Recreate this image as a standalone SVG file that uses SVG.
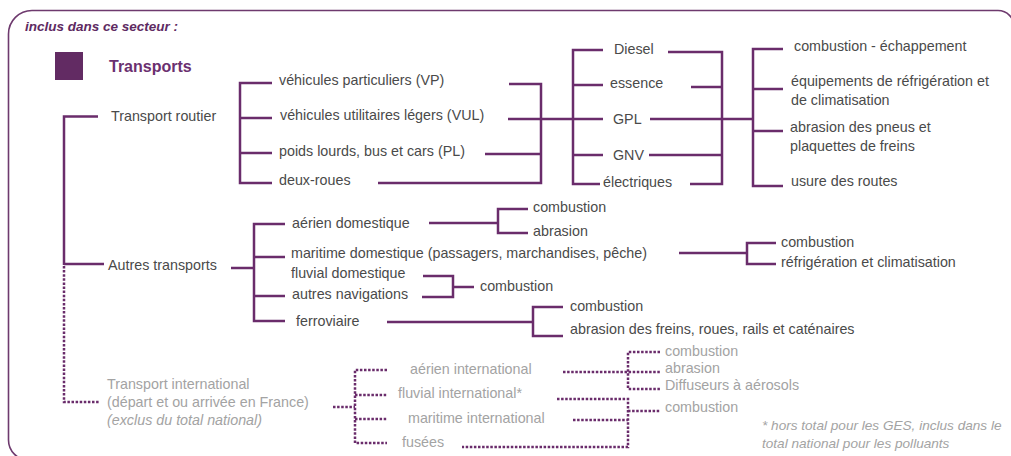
<svg xmlns="http://www.w3.org/2000/svg" width="1011" height="456" viewBox="0 0 1011 456">
<style>
.ln{fill:none;stroke:#6a2c6b;stroke-width:2.5;stroke-linejoin:miter;stroke-linecap:butt}
.dt{fill:none;stroke:#6a2c6b;stroke-width:2.5;stroke-dasharray:2.5 1.6}
.t{font-family:"Liberation Sans",Arial,sans-serif;font-size:14.3px;fill:#4a4a4a}
.g{font-family:"Liberation Sans",Arial,sans-serif;font-size:14.3px;fill:#a3a3a3}
.gi{font-family:"Liberation Sans",Arial,sans-serif;font-size:14.3px;fill:#a3a3a3;font-style:italic}
.fn{font-size:13.6px}
</style>
<rect width="1011" height="456" fill="#ffffff"/>
<path d="M1014 27 A16 16 0 0 0 998 10.5 L32 10.5 A23.5 23.5 0 0 0 8.5 34 L8.5 440 A20 20 0 0 0 28.5 460" fill="none" stroke="#6e3a6e" stroke-width="1.6"/>
<g id="header">
<text x="25" y="31" font-family="Liberation Sans,Arial,sans-serif" font-size="13.5" font-weight="bold" font-style="italic" fill="#5e2a62">inclus dans ce secteur :</text>
<rect x="55" y="52" width="28" height="28" fill="#622b63"/>
<text x="109" y="72" font-family="Liberation Sans,Arial,sans-serif" font-size="16" font-weight="bold" fill="#6b3070">Transports</text>
</g>
<g id="connectors">
<path class="ln" d="M98 116.5 H64 V265 M64 264 H104"/>
<path class="dt" d="M64 266 V402 H100"/>
<path class="ln" d="M272 83 H240 V183 H272 M240 118 H272 M240 153 H272"/>
<path class="ln" d="M509 84 H541 V183 H378 M508 119 H573 M485 154 H541"/>
<path class="ln" d="M603 50 H573 V184 H600 M573 85 H603 M573 119 H603 M573 155 H603"/>
<path class="ln" d="M668 52 H722 V184 H690 M691 87 H722 M650 119 H753 M649 155 H722"/>
<path class="ln" d="M783 49 H753 V186 H783 M753 89 H783 M753 131 H783"/>
<path class="ln" d="M231 268 H254 M285 224 H254 V321 H285 M254 257 H285 M254 296 H285"/>
<path class="ln" d="M429 223 H498 M528 209 H498 V233 H528"/>
<path class="ln" d="M679 253 H747 M776 243 H747 V264 H776"/>
<path class="ln" d="M423 276 H453 V297 H422 M453 287 H474"/>
<path class="ln" d="M387 322 H533 M563 307 H533 V336 H563"/>
<path class="dt" d="M333 407 H355 M387 370 H355 V443 H387 M355 395 H387 M355 419 H387"/>
<path class="dt" d="M563 372 H660 M660 352 H628 V389 H660"/>
<path class="dt" d="M557 399 H628 V447 H462 M573 420 H628 M628 411 H660"/>
</g>
<g id="transport-routier"><text class="t" x="111" y="121">Transport routier</text></g>
<g id="vp"><text class="t" x="279" y="85">véhicules particuliers (VP)</text></g>
<g id="vul"><text class="t" x="280" y="120">véhicules utilitaires légers (VUL)</text></g>
<g id="pl"><text class="t" x="279" y="156">poids lourds, bus et cars (PL)</text></g>
<g id="deux-roues"><text class="t" x="279" y="185">deux-roues</text></g>
<g id="diesel"><text class="t" x="614" y="54">Diesel</text></g>
<g id="essence"><text class="t" x="610" y="88">essence</text></g>
<g id="gpl"><text class="t" x="613" y="124">GPL</text></g>
<g id="gnv"><text class="t" x="613" y="160">GNV</text></g>
<g id="electriques"><text class="t" x="603" y="187">électriques</text></g>
<g id="combustion-echappement"><text class="t" x="794" y="51">combustion - échappement</text></g>
<g id="equipements"><text class="t" x="791" y="86">équipements de réfrigération et</text><text class="t" x="791" y="105">de climatisation</text></g>
<g id="abrasion-pneus"><text class="t" x="790" y="132">abrasion des pneus et</text><text class="t" x="790" y="151">plaquettes de freins</text></g>
<g id="usure"><text class="t" x="791" y="186">usure des routes</text></g>
<g id="autres-transports"><text class="t" x="108" y="270">Autres transports</text></g>
<g id="aerien-dom"><text class="t" x="292" y="228">aérien domestique</text></g>
<g id="maritime-dom"><text class="t" x="291" y="258">maritime domestique (passagers, marchandises, pêche)</text></g>
<g id="fluvial-dom"><text class="t" x="291" y="278">fluvial domestique</text></g>
<g id="autres-nav"><text class="t" x="292" y="299">autres navigations</text></g>
<g id="ferroviaire"><text class="t" x="296" y="326">ferroviaire</text></g>
<g id="aerien-dom-emis"><text class="t" x="533" y="212">combustion</text><text class="t" x="533" y="236">abrasion</text></g>
<g id="maritime-dom-emis"><text class="t" x="781" y="247">combustion</text><text class="t" x="781" y="267">réfrigération et climatisation</text></g>
<g id="fluvial-emis"><text class="t" x="480" y="291">combustion</text></g>
<g id="ferroviaire-emis"><text class="t" x="570" y="311">combustion</text><text class="t" x="570" y="334">abrasion des freins, roues, rails et caténaires</text></g>
<g id="transport-international">
<text class="g" x="107" y="389">Transport international</text>
<text class="g" x="107" y="407">(départ et ou arrivée en France)</text>
<text class="gi" x="107" y="425">(exclus du total national)</text>
</g>
<g id="aerien-int"><text class="g" x="410" y="374">aérien international</text></g>
<g id="fluvial-int"><text class="g" x="398" y="398">fluvial international*</text></g>
<g id="maritime-int"><text class="g" x="408" y="423">maritime international</text></g>
<g id="fusees"><text class="g" x="402" y="447">fusées</text></g>
<g id="int-emis-1"><text class="g" x="665" y="356">combustion</text><text class="g" x="665" y="373">abrasion</text><text class="g" x="665" y="390">Diffuseurs à aérosols</text></g>
<g id="int-emis-2"><text class="g" x="665" y="412">combustion</text></g>
<g id="footnote"><text class="gi fn" x="762" y="430">* hors total pour les GES, inclus dans le</text><text class="gi fn" x="762" y="448">total national pour les polluants</text></g>
</svg>
